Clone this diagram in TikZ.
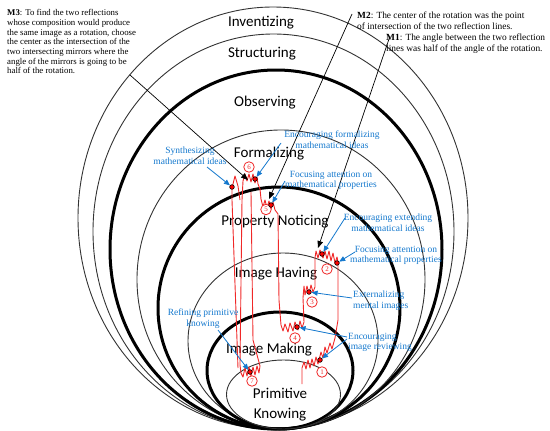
\documentclass[tikz,border=0pt]{standalone}
\usepackage{fontspec}
\setmainfont{Liberation Serif}
\newfontfamily\calibrifont{Carlito}
\usetikzlibrary{arrows.meta}
\definecolor{annblue}{RGB}{20,120,205}
\definecolor{pathred}{RGB}{240,40,40}
\begin{document}
\begin{tikzpicture}[x=1pt,y=-1pt,
  thinring/.style={draw=black!80, line width=0.9pt},
  thickring/.style={draw=black, line width=3pt},
  layer/.style={font=\calibrifont\fontsize{15}{17}\selectfont, anchor=base, inner sep=0pt},
  ann/.style={font=\fontsize{9.5}{10.7}\selectfont, text=annblue, align=center, inner sep=0pt},
  annl/.style={font=\fontsize{9.5}{10.7}\selectfont, text=annblue, align=left, anchor=west, inner sep=0pt},
  mtext/.style={font=\fontsize{9.4}{11}\selectfont, align=left, anchor=north west, inner sep=0pt},
  barrow/.style={draw=annblue, line width=0.8pt, -{Triangle[length=6pt,width=5pt]}},
  karrow/.style={draw=black, line width=0.7pt, -{Triangle[length=7pt,width=5.5pt]}},
  redpath/.style={draw=pathred, line width=0.9pt, line join=round},
  dot/.style={circle, fill=red, draw=black, line width=0.6pt, minimum size=4.6pt, inner sep=0pt},
  numc/.style={circle, draw=pathred, fill=white, line width=0.8pt, minimum size=10.5pt, inner sep=0pt, text=pathred, font=\fontsize{7}{7}\selectfont}
]
\useasboundingbox (0,0) rectangle (550,431);

% nested rings
\draw[thinring] (273,218) ellipse [x radius=195, y radius=211];
\draw[thinring] (273.5,231.5) ellipse [x radius=180.5, y radius=197.5];
\draw[thickring] (276,249.5) ellipse [x radius=166, y radius=179.5];
\draw[thinring] (281,279.5) ellipse [x radius=144, y radius=149.5];
\draw[thickring] (279,308) ellipse [x radius=121, y radius=121];
\draw[thinring] (283,341) ellipse [x radius=95, y radius=88];
\draw[thickring] (280,370.5) ellipse [x radius=73, y radius=58.5];
\draw[thinring] (283.5,394.5) ellipse [x radius=57, y radius=34.5];

% layer labels
\node[layer] (lInv) at (261,27) {Inventizing};
\node[layer] (lStr) at (262,57) {Structuring};
\node[layer] (lObs) at (265,106) {Observing};
\node[layer] (lFor) at (269,157) {Formalizing};
\node[layer] (lPN) at (275,225) {Property Noticing};
\node[layer] (lIH) at (276,277) {Image Having};
\node[layer] (lIM) at (269,353) {Image Making};
\node[layer] (lPr) at (280,398) {Primitive};
\node[layer] (lKn) at (280,418) {Knowing};

% red learner path
\draw[redpath] (302,384) -- (302,368) -- (304,362) -- (306,369) -- (308,360) -- (310,368) -- (312,359) -- (314,366) -- (316,357) -- (318,364) -- (321,352) -- (323,358) -- (325,347) -- (327,353) -- (330,343) -- (332,349) -- (335,338) -- (338,320) -- (338,262)
 -- (337,257) -- (335,263) -- (333,253) -- (331,261) -- (329,251) -- (327,259) -- (325,251) -- (323,258) -- (320,250) -- (318,258) -- (316,251) -- (315,258) -- (315,287)
 -- (313,292) -- (311,285) -- (309,294) -- (307,286) -- (305,295) -- (304,286) -- (303,298) -- (304,322)
 -- (302,328) -- (300,321) -- (298,330) -- (295,322) -- (293,331) -- (290,323) -- (288,332) -- (285,324) -- (283,331) -- (281,325) -- (279,300) -- (278,214)
 -- (275,210) -- (273,202) -- (271,209) -- (269,201) -- (267,208) -- (265,200) -- (263,207) -- (261,199) -- (260,189) -- (258,184)
 -- (257,177) -- (255,183) -- (253,174) -- (251,182) -- (249,174) -- (247,181) -- (245,174) -- (243,181) -- (242,200) -- (240,365)
 -- (241,373) -- (243,377) -- (245,368) -- (247,376) -- (249,367) -- (251,376) -- (253,367) -- (255,375) -- (257,366) -- (259,373) -- (260,366) -- (253,340) -- (251,192);
\draw[redpath] (238,368) -- (232,200) -- (232,188) -- (235,176) -- (238,186) -- (240,200);

% number circles
\node[numc] (n1) at (322,372) {1};
\node[numc] (n2) at (327,269) {2};
\node[numc] (n3) at (312,302) {3};
\node[numc] (n4) at (295,338) {4};
\node[numc] (n5) at (266,209.5) {5};
\node[numc] (n6) at (249,167) {6};
\node[numc] (n7) at (252,381) {7};

% dots
\node[dot] (d1) at (320,360) {};
\node[dot] (d2a) at (322,254) {};
\node[dot] (d2b) at (337,263) {};
\node[dot] (d3) at (309,292) {};
\node[dot] (d4) at (297,327) {};
\node[dot] (d5) at (271,205) {};
\node[dot] (d6) at (255,179) {};
\node[dot] (ds) at (232,187) {};
\node[dot] (d7) at (250,372) {};

% M texts
\node[mtext, font=\fontsize{8.8}{9.7}\selectfont] (m3) at (7,9.3) {\textbf{M3}: To find the two reflections\\whose composition would produce\\the same image as a rotation, choose\\the center as the intersection of the\\two intersecting mirrors where the\\angle of the mirrors is going to be\\half of the rotation.};
\node[mtext] (m2) at (357,11.6) {\textbf{M2}: The center of the rotation was the point\\of intersection of the two reflection lines.};
\node[mtext] (m1) at (386,33.8) {\textbf{M1}: The angle between the two reflection\\lines was half of the angle of the rotation.};

\coordinate (m3s) at (130,75);
\coordinate (m3e) at (248,180);
\coordinate (m2s) at (352,14);
\coordinate (m2e) at (269,199);
\coordinate (m1s) at (390,36);
\coordinate (m1e) at (318,248);
\draw[karrow] (m3s) -- (m3e);
\draw[karrow] (m2s) -- (m2e);
\draw[karrow] (m1s) -- (m1e);

% blue annotations
\node[ann] (t1) at (190,155.5) {Synthesizing\\mathematical ideas};
\node[ann] (t2) at (332,140) {Encouraging formalizing\\mathematical ideas};
\node[ann] (t3) at (331,180.5) {Focusing attention on\\mathematical properties};
\node[ann] (t4) at (388,222.5) {Encouraging extending\\mathematical ideas};
\node[ann] (t5) at (396,255.5) {Focusing attention on\\mathematical properties};
\node[annl] (t6) at (353,301) {Externalizing\\mental images};
\node[annl] (t7) at (348,342.5) {Encouraging\\image reviewing};
\node[ann] (t8) at (203,318.5) {Refining primitive\\knowing};

\coordinate (a1) at (207,167);
\coordinate (a2) at (281,143);
\coordinate (a3) at (285,181);
\coordinate (a4) at (345,218);
\coordinate (a5) at (355,252);
\coordinate (a6) at (352,298);
\coordinate (a7) at (347,337);
\coordinate (a8) at (347,339);
\coordinate (a9) at (218,330);
\draw[barrow] (a1) -- (ds);
\draw[barrow] (a2) -- (d6);
\draw[barrow] (a3) -- (d5);
\draw[barrow] (a4) -- (d2a);
\draw[barrow] (a5) -- (d2b);
\draw[barrow] (a6) -- (d3);
\draw[barrow] (a7) -- (d4);
\draw[barrow] (a8) -- (d1);
\draw[barrow] (a9) -- (d7);
\end{tikzpicture}
\end{document}
